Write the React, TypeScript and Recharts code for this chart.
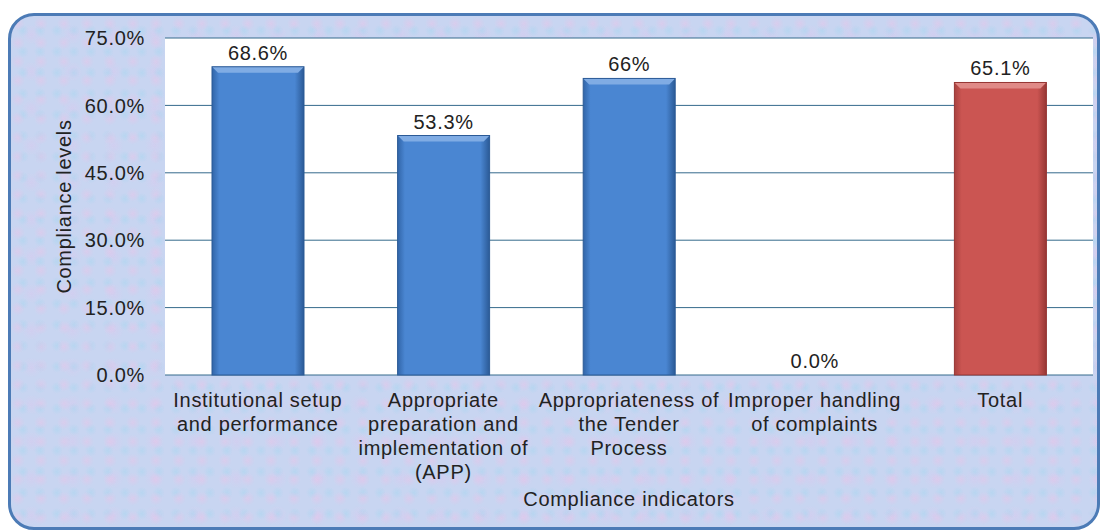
import { Bar, BarChart, CartesianGrid, XAxis, YAxis } from "recharts";

const categories = [
  "Institutional setup and performance",
  "Appropriate preparation and implementation of (APP)",
  "Appropriateness of the Tender Process",
  "Improper handling of complaints",
  "Total"
];
const tickLines = [
  ["Institutional setup", "and performance"],
  ["Appropriate", "preparation and", "implementation of", "(APP)"],
  ["Appropriateness of", "the Tender", "Process"],
  ["Improper handling", "of complaints"],
  ["Total"]
];
const compliance = [68.6, 53.3, 66, 0, 65.1];
const valueLabels = ["68.6%", "53.3%", "66%", "0.0%", "65.1%"];
const yTicks = [0, 15, 30, 45, 60, 75];

const data = categories.map((name, i) => ({
  name,
  value: compliance[i],
  label: valueLabels[i]
}));

const font = "'Liberation Sans', Arial, sans-serif";
const textColor = "#222";
const spacing = "0.7px";

const palette = {
  blue: { main: "#4a86d2", edge: "#3165a8", dark: "#2b5a96", top: "#80ace4" },
  red: { main: "#cb5552", edge: "#a8423f", dark: "#963634", top: "#e08a87" }
};

function CategoryTick({ x, y, payload }: any) {
  const lines = tickLines[payload.index] ?? [payload.value];
  return (
    <text x={x} y={y} textAnchor="middle" fill={textColor} fontSize={20} fontFamily={font} letterSpacing={spacing}>
      {lines.map((line, i) => (
        <tspan key={i} x={x} dy={24}>
          {line}
        </tspan>
      ))}
    </text>
  );
}

function YTitle({ viewBox }: any) {
  const cy = viewBox.y + viewBox.height / 2;
  return (
    <text
      x={71}
      y={cy}
      transform={`rotate(-90 71 ${cy})`}
      textAnchor="middle"
      fill={textColor}
      fontSize={20}
      fontFamily={font}
      letterSpacing={spacing}
    >
      Compliance levels
    </text>
  );
}

function barShape(props: any) {
  const { x, y, width, height, index } = props;
  if (!height || height <= 0) return <g />;
  const c = index === 4 ? palette.red : palette.blue;
  const id = `barGrad${index}`;
  const b = 6;
  return (
    <g>
      <defs>
        <linearGradient id={id} x1="0" y1="0" x2="1" y2="0">
          <stop offset="0%" stopColor={c.edge} />
          <stop offset="8%" stopColor={c.main} />
          <stop offset="90%" stopColor={c.main} />
          <stop offset="100%" stopColor={c.dark} />
        </linearGradient>
      </defs>
      <rect x={x} y={y} width={width} height={height} fill={`url(#${id})`} />
      <polygon points={`${x},${y} ${x + width},${y} ${x + width - b},${y + b} ${x + b},${y + b}`} fill={c.top} />
      <rect x={x} y={y} width={width} height={height} fill="none" stroke={c.dark} strokeWidth={1} />
    </g>
  );
}

function ValueLabel(props: any) {
  const { x, y, width, index } = props;
  return (
    <text x={x + width / 2} y={y - 7} textAnchor="middle" fill={textColor} fontSize={20} fontFamily={font} letterSpacing={spacing}>
      {valueLabels[index]}
    </text>
  );
}

export default function App() {
  return (
    <div style={{ position: "absolute", left: 0, top: 0, width: 1103, height: 532, background: "#fff", overflow: "hidden" }}>
      <div
        style={{
          position: "absolute",
          left: 8,
          top: 13,
          width: 1092,
          height: 517,
          boxSizing: "border-box",
          border: "3px solid #4c7bb6",
          borderRadius: 26,
          backgroundColor: "#c8d5f1",
          backgroundImage:
            "radial-gradient(circle at 30% 40%, rgba(232,196,232,0.5) 0, rgba(232,196,232,0) 7px), radial-gradient(circle at 70% 70%, rgba(170,214,240,0.55) 0, rgba(170,214,240,0) 6px), radial-gradient(circle at 50% 50%, rgba(220,200,238,0.45) 0, rgba(220,200,238,0) 10px)",
          backgroundSize: "23px 19px, 17px 21px, 41px 37px"
        }}
      />
      <div style={{ position: "absolute", left: 165, top: 38, width: 928, height: 337, background: "#fff" }} />
      <div style={{ position: "absolute", left: 0, top: 0 }}>
        <BarChart width={1103} height={532} data={data} margin={{ top: 38, right: 10, bottom: 22, left: 0 }}>
          <CartesianGrid vertical={false} stroke="#356a8c" />
          <XAxis
            dataKey="name"
            interval={0}
            axisLine={false}
            tickLine={false}
            height={135}
            tick={<CategoryTick />}
            label={{
              value: "Compliance indicators",
              position: "insideBottom",
              offset: 4,
              fill: textColor,
              fontSize: 20,
              fontFamily: font,
              letterSpacing: spacing
            }}
          />
          <YAxis
            domain={[0, 75]}
            ticks={yTicks}
            width={165}
            axisLine={false}
            tickLine={false}
            tickMargin={14}
            tickFormatter={(v: number) => `${v.toFixed(1)}%`}
            tick={{ fill: textColor, fontSize: 20, fontFamily: font, letterSpacing: spacing }}
            label={<YTitle />}
          />
          <Bar dataKey="value" barSize={92} shape={barShape} label={<ValueLabel />} isAnimationActive={false} />
        </BarChart>
      </div>
    </div>
  );
}
